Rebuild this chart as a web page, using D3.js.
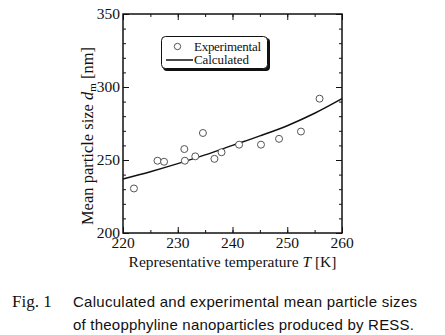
<!DOCTYPE html>
<html>
<head>
<meta charset="utf-8">
<script src="https://cdn.jsdelivr.net/npm/d3@7"></script>
<style>
  body { margin: 0; background: #fff; }
  text { font-family: "Liberation Serif", "Times New Roman", serif; fill: #111; }
  .cap { font-family: "Liberation Sans", Arial, sans-serif; }
</style>
</head>
<body>
<script>
// Experimental points (T [K], d_m [nm])
var expT = [222.0, 226.3, 227.5, 231.2, 231.3, 233.2, 234.6, 236.7, 238.0, 241.2, 245.2, 248.5, 252.5, 255.9];
var expD = [230.5, 249.5, 248.8, 257.5, 249.5, 252.5, 268.5, 250.8, 255.3, 260.5, 260.5, 264.5, 269.5, 292.0];

// Calculated curve
var calcT = [220, 225, 230, 235, 240, 245, 250, 255, 260];
var calcD = [237, 242, 247.5, 253.5, 260, 266.5, 273.5, 282, 292];

var xTicks = [220, 230, 240, 250, 260];
var yTicks = [200, 250, 300, 350];

var W = 445, H = 335;
var m = { left: 123, top: 14, right: 342, bottom: 233 };

var svg = d3.select("body").append("svg")
    .attr("width", W)
    .attr("height", H);

var x = d3.scaleLinear().domain([220, 260]).range([m.left, m.right]);
var y = d3.scaleLinear().domain([200, 350]).range([m.bottom, m.top]);

// minor + major ticks, all pointing inwards, on all four sides
var g = svg.append("g");
var xMinor = d3.range(220, 260.1, 5);
var yMinor = d3.range(200, 350.1, 10);

g.append("g").attr("transform", "translate(0," + m.bottom + ")")
  .call(d3.axisBottom(x).tickValues(xMinor).tickSize(-3).tickFormat(""));
g.append("g").attr("transform", "translate(0," + m.top + ")")
  .call(d3.axisTop(x).tickValues(xMinor).tickSize(-3).tickFormat(""));
g.append("g").attr("transform", "translate(" + m.left + ",0)")
  .call(d3.axisLeft(y).tickValues(yMinor).tickSize(-3).tickFormat(""));
g.append("g").attr("transform", "translate(" + m.right + ",0)")
  .call(d3.axisRight(y).tickValues(yMinor).tickSize(-3).tickFormat(""));

g.append("g").attr("transform", "translate(0," + m.bottom + ")")
  .call(d3.axisBottom(x).tickValues(xTicks).tickSize(-6).tickFormat(""));
g.append("g").attr("transform", "translate(0," + m.top + ")")
  .call(d3.axisTop(x).tickValues(xTicks).tickSize(-6).tickFormat(""));
g.append("g").attr("transform", "translate(" + m.left + ",0)")
  .call(d3.axisLeft(y).tickValues(yTicks).tickSize(-6).tickFormat(""));
g.append("g").attr("transform", "translate(" + m.right + ",0)")
  .call(d3.axisRight(y).tickValues(yTicks).tickSize(-6).tickFormat(""));

g.selectAll(".domain").remove();
g.selectAll(".tick line").attr("stroke", "#111").attr("stroke-width", 1);

svg.append("rect")
  .attr("x", m.left).attr("y", m.top)
  .attr("width", m.right - m.left).attr("height", m.bottom - m.top)
  .attr("fill", "none").attr("stroke", "#111").attr("stroke-width", 1.5);

// tick labels
svg.selectAll(".xl").data(xTicks).enter().append("text")
  .attr("x", function(d) { return x(d); })
  .attr("y", m.bottom + 15)
  .attr("text-anchor", "middle")
  .style("font-size", "15.5px")
  .text(function(d) { return d; });

svg.selectAll(".yl").data(yTicks).enter().append("text")
  .attr("x", m.left - 3)
  .attr("y", function(d) { return y(d) + 5; })
  .attr("text-anchor", "end")
  .style("font-size", "15.5px")
  .text(function(d) { return d; });

// axis titles
var xt = svg.append("text")
  .attr("x", (m.left + m.right) / 2)
  .attr("y", 267)
  .attr("text-anchor", "middle")
  .style("font-size", "15.5px");
xt.append("tspan").text("Representative temperature ");
xt.append("tspan").style("font-style", "italic").text("T");
xt.append("tspan").text(" [K]");

var yt = svg.append("text")
  .attr("transform", "translate(93,136) rotate(-90)")
  .attr("text-anchor", "middle")
  .style("font-size", "16.5px");
yt.append("tspan").text("Mean particle size ");
yt.append("tspan").style("font-style", "italic").text("d");
yt.append("tspan").attr("dy", 3).style("font-size", "11px").text("m");
yt.append("tspan").attr("dy", -3).text(" [nm]");

// calculated curve
var line = d3.line()
  .x(function(d, i) { return x(calcT[i]); })
  .y(function(d) { return y(d); })
  .curve(d3.curveMonotoneX);

svg.append("path")
  .datum(calcD)
  .attr("d", line)
  .attr("fill", "none")
  .attr("stroke", "#111")
  .attr("stroke-width", 1.5);

// experimental points
svg.selectAll(".pt").data(expD).enter().append("circle")
  .attr("cx", function(d, i) { return x(expT[i]); })
  .attr("cy", function(d) { return y(d); })
  .attr("r", 3.5)
  .attr("fill", "#fff")
  .attr("stroke", "#555")
  .attr("stroke-width", 1);

// legend
var lg = svg.append("g");
lg.append("rect")
  .attr("x", 163).attr("y", 38).attr("width", 107).attr("height", 33).attr("rx", 4)
  .attr("fill", "#111");
lg.append("rect")
  .attr("x", 161.5).attr("y", 36.5).attr("width", 106).attr("height", 32).attr("rx", 4)
  .attr("fill", "#fff").attr("stroke", "#111").attr("stroke-width", 1);
lg.append("circle").attr("cx", 177.5).attr("cy", 46.5).attr("r", 3.2)
  .attr("fill", "#fff").attr("stroke", "#555");
lg.append("line").attr("x1", 166).attr("x2", 193).attr("y1", 60).attr("y2", 60)
  .attr("stroke", "#111").attr("stroke-width", 1.5);
lg.append("text").attr("x", 194).attr("y", 51).style("font-size", "13px")
  .attr("textLength", 67).text("Experimental");
lg.append("text").attr("x", 194).attr("y", 64).style("font-size", "13px")
  .attr("textLength", 55).text("Calculated");

// caption
svg.append("text").attr("x", 12).attr("y", 307).style("font-size", "17px").text("Fig. 1");
svg.append("text").attr("class", "cap").attr("x", 73).attr("y", 307)
  .attr("textLength", 344).style("font-size", "15px")
  .text("Caluculated and experimental mean particle sizes");
svg.append("text").attr("class", "cap").attr("x", 73).attr("y", 330)
  .attr("textLength", 341).style("font-size", "15px")
  .text("of theopphyline nanoparticles produced by RESS.");
</script>
</body>
</html>
